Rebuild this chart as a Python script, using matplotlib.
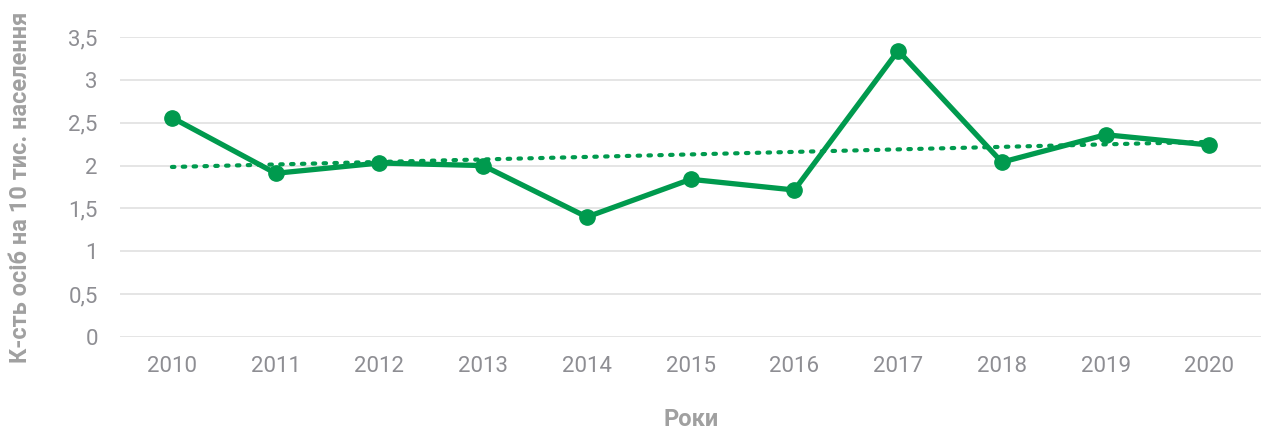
import numpy as np
import matplotlib.pyplot as plt

# Data
years = ['2010', '2011', '2012', '2013', '2014', '2015', '2016', '2017', '2018', '2019', '2020']
values = [2.56, 1.91, 2.03, 2.0, 1.40, 1.84, 1.715, 3.34, 2.04, 2.36, 2.24]
y_ticks = [0, 0.5, 1, 1.5, 2, 2.5, 3, 3.5]
y_tick_labels = ['0', '0,5', '1', '1,5', '2', '2,5', '3', '3,5']

green = '#009A4E'
grey_text = '#8E8E93'
grey_title = '#A0A0A0'

plt.rcParams['font.family'] = ['Roboto', 'DejaVu Sans']

fig = plt.figure(figsize=(12.61, 4.33), dpi=100)
ax = fig.add_axes([0.0952, 0.2217, 0.905, 0.6928])

x = np.arange(len(years))

# Linear trend
k, b = np.polyfit(x, values, 1)
ax.plot(x, k * x + b, color=green, linestyle=(0, (0.6, 2.0)), linewidth=3.0,
        dash_capstyle='round', zorder=2)

ax.plot(x, values, color=green, linewidth=3.8, marker='o', markersize=11,
        solid_joinstyle='round', zorder=3)

ax.set_xlim(-0.5, len(years) - 0.5)
ax.set_ylim(0, 3.5)
ax.set_xticks(x)
ax.set_xticklabels(years)
ax.set_yticks(y_ticks)
ax.set_yticklabels(y_tick_labels)

ax.grid(axis='y', color='#E3E3E3', linewidth=1.3)
ax.set_axisbelow(True)
for s in ax.spines.values():
    s.set_visible(False)
ax.tick_params(length=0, labelsize=16, labelcolor=grey_text)
ax.tick_params(axis='x', pad=14)
ax.tick_params(axis='y', pad=16)

ax.set_xlabel('Роки', fontsize=17, fontweight='bold', color=grey_title, labelpad=22)
ax.set_ylabel('К-сть осіб на 10 тис. населення', fontsize=17, fontweight='bold',
              color=grey_title, labelpad=26)

fig.savefig('out.png', dpi=100)
